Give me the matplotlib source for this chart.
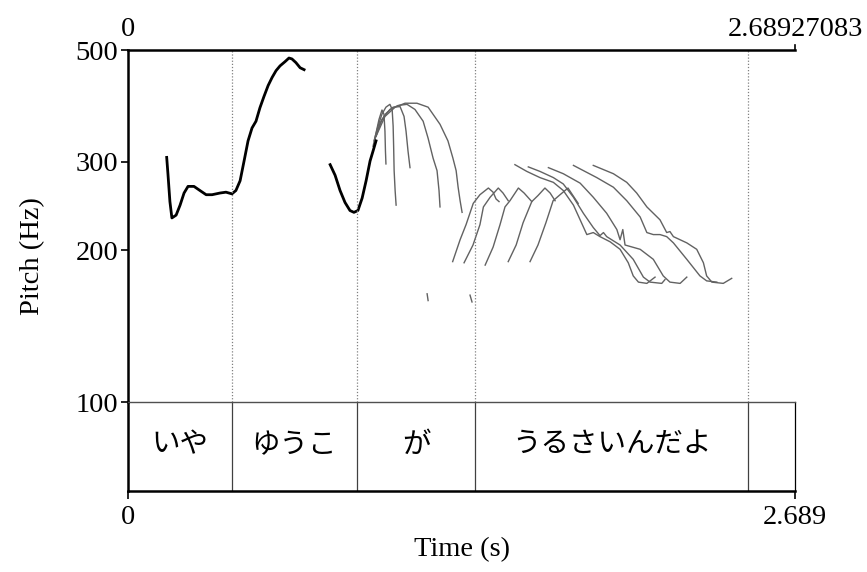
import matplotlib
matplotlib.use('Agg')
import matplotlib.pyplot as plt

plt.rcParams['font.family'] = ['Liberation Serif', 'Noto Sans CJK JP']

T_END = 2.68927083

# interval tier (boundaries in s) and labels
bounds = [0.419, 0.923, 1.399, 2.500]
labels = ['いや', 'ゆうこ', 'が', 'うるさいんだよ', '']

# main pitch contour pieces (thick)
c1_t = [0.156, 0.161, 0.169, 0.177, 0.194, 0.210, 0.226, 0.242, 0.266, 0.290, 0.315,
        0.339, 0.371, 0.395, 0.419, 0.435, 0.452, 0.468, 0.484, 0.500, 0.516, 0.532,
        0.548, 0.565, 0.581, 0.597, 0.613, 0.633, 0.649, 0.661, 0.677, 0.694, 0.710]
c1_f = [306, 284, 250, 232, 235, 246, 260, 268, 268, 263, 258,
        258, 260, 261, 259, 263, 275, 301, 330, 350, 361, 384,
        404, 425, 441, 455, 465, 474, 482, 480, 472, 461, 457]

c2_t = [0.815, 0.835, 0.855, 0.875, 0.895, 0.911, 0.927, 0.944, 0.960, 0.976, 0.988, 1.000]
c2_f = [296, 282, 263, 249, 240, 238, 240, 254, 275, 301, 315, 330]

# thin overlaid contours, "ga" region
f1_t = [0.988, 1.000, 1.012, 1.024, 1.032, 1.036, 1.038, 1.040]
f1_f = [322, 342, 364, 380, 373, 345, 315, 297]
f2_t = [0.992, 1.008, 1.024, 1.040, 1.056, 1.065, 1.069, 1.071, 1.073, 1.077, 1.081]
f2_f = [330, 353, 373, 385, 390, 381, 353, 322, 288, 263, 246]
f3_t = [0.996, 1.016, 1.040, 1.069, 1.097, 1.113, 1.121, 1.129, 1.137]
f3_f = [333, 358, 374, 385, 386, 369, 345, 315, 292]
f4_t = [1.000, 1.024, 1.056, 1.089, 1.125, 1.157, 1.190, 1.210, 1.230, 1.246, 1.254, 1.258]
f4_f = [337, 364, 381, 388, 390, 381, 361, 334, 305, 288, 263, 244]
f5_t = [1.000, 1.036, 1.077, 1.117, 1.165, 1.210, 1.258, 1.290, 1.310, 1.323, 1.331, 1.339, 1.347]
f5_f = [337, 369, 385, 392, 392, 385, 356, 330, 305, 288, 267, 251, 238]

# small stray fragments
s1_t = [1.206, 1.210]
s1_f = [164, 159]
s2_t = [1.379, 1.387]
s2_f = [163, 158]

# rising pieces, "urusai" region
r1_t = [1.309, 1.339, 1.363, 1.392, 1.419, 1.453, 1.472, 1.484, 1.496]
r1_f = [190, 210, 225, 248, 258, 266, 261, 253, 250]
r2_t = [1.355, 1.391, 1.419, 1.433, 1.460, 1.493, 1.512, 1.533]
r2_f = [189, 205, 225, 244, 255, 266, 260, 251]
r3_t = [1.440, 1.472, 1.500, 1.520, 1.540, 1.574, 1.597, 1.628]
r3_f = [187, 203, 225, 244, 251, 266, 260, 250]
r4_t = [1.533, 1.565, 1.593, 1.628, 1.653, 1.681, 1.702, 1.722]
r4_f = [190, 205, 227, 250, 257, 266, 260, 251]
r5_t = [1.621, 1.653, 1.685, 1.714, 1.742, 1.774, 1.794, 1.815]
r5_f = [190, 205, 227, 251, 258, 266, 257, 248]

# falling pieces
d1_t = [1.560, 1.608, 1.661, 1.715, 1.755, 1.796, 1.823, 1.850, 1.876, 1.903, 1.944,
        1.984, 2.017, 2.037, 2.058, 2.092, 2.125]
d1_f = [296, 287, 279, 273, 263, 246, 230, 215, 217, 213, 208,
        201, 189, 178, 173, 172, 177]
d2_t = [1.614, 1.661, 1.715, 1.755, 1.796, 1.836, 1.876, 1.903, 1.917, 1.930, 1.984,
        2.037, 2.078, 2.105, 2.152, 2.165]
d2_f = [293, 287, 279, 271, 255, 237, 222, 214, 217, 213, 205,
        192, 177, 173, 172, 175]
d3_t = [1.695, 1.755, 1.823, 1.876, 1.930, 1.971, 1.984, 1.995, 2.004, 2.065, 2.118,
        2.158, 2.185, 2.226, 2.253]
d3_f = [292, 284, 272, 255, 237, 220, 210, 220, 205, 201, 192,
        178, 173, 172, 177]
d4_t = [1.796, 1.890, 1.957, 2.011, 2.065, 2.092, 2.118, 2.145, 2.172, 2.199, 2.253,
        2.306, 2.333, 2.374]
d4_f = [295, 279, 267, 251, 233, 217, 215, 215, 213, 207, 192,
        178, 174, 173]
d5_t = [1.876, 1.957, 2.011, 2.051, 2.092, 2.145, 2.172, 2.185, 2.199, 2.253, 2.293,
        2.320, 2.333, 2.354, 2.400, 2.434]
d5_f = [295, 284, 273, 260, 244, 230, 217, 218, 213, 207, 201,
        189, 178, 173, 172, 176]

thick = [(c1_t, c1_f), (c2_t, c2_f)]
thin = [(f1_t, f1_f), (f2_t, f2_f), (f3_t, f3_f), (f4_t, f4_f), (f5_t, f5_f),
        (s1_t, s1_f), (s2_t, s2_f),
        (r1_t, r1_f), (r2_t, r2_f), (r3_t, r3_f), (r4_t, r4_f), (r5_t, r5_f),
        (d1_t, d1_f), (d2_t, d2_f), (d3_t, d3_f), (d4_t, d4_f), (d5_t, d5_f)]

fig = plt.figure(figsize=(8.67, 5.72), dpi=100)
W, H = 867, 572
left, right = 128, 795
ytop, ymid, ybot = 50, 402, 491

ax = fig.add_axes([left / W, 1 - ymid / H, (right - left) / W, (ymid - ytop) / H])
tier = fig.add_axes([left / W, 1 - ybot / H, (right - left) / W, (ybot - ymid) / H])
tier.patch.set_visible(False)

FS = 20.5

# pitch panel
for t, f in thin:
    ax.plot(t, f, color='#626262', lw=1.0)
for t, f in thick:
    ax.plot(t, f, color='black', lw=2.0)
for b in bounds:
    ax.axvline(b, color='#808080', lw=0.9, ls=(0, (1, 1.5)))

ax.set_yscale('log')
ax.set_xlim(0, T_END)
ax.set_ylim(100, 500)
ax.set_yticks([100, 200, 300, 500])
ax.set_yticklabels(['100', '200', '300', '500'])
ax.minorticks_off()
ax.set_xticks([])
ax.tick_params(axis='y', direction='out', length=5, width=1.2, labelsize=FS, pad=2)
for s in ['left', 'top']:
    ax.spines[s].set_linewidth(1.8)
ax.spines['right'].set_visible(False)
ax.spines['bottom'].set_visible(False)

fig.text(33 / W, 1 - 256 / H, 'Pitch (Hz)', rotation=90, ha='center', va='center', fontsize=FS)

# time range labels above
ax.annotate('0', xy=(0, 1), xycoords='axes fraction', xytext=(0, 6),
            textcoords='offset points', ha='center', va='bottom', fontsize=FS)
ax.annotate('2.68927083', xy=(1, 1), xycoords='axes fraction', xytext=(0, 6),
            textcoords='offset points', ha='center', va='bottom', fontsize=FS)
ax.plot([1, 1], [1, 1.015], transform=ax.transAxes, color='black', lw=1.2, clip_on=False)

# text tier
tier.set_xlim(0, T_END)
tier.set_ylim(0, 1)
edges = [0] + bounds + [T_END]
for b in bounds:
    tier.axvline(b, color='#404040', lw=0.9)
for i, lab in enumerate(labels):
    tier.text((edges[i] + edges[i + 1]) / 2, 0.52, lab, ha='center', va='center',
              fontsize=20.5, family=['Noto Sans CJK JP', 'DejaVu Sans'])
tier.set_yticks([])
tier.set_xticks([0, T_END])
tier.set_xticklabels(['0', '2.689'])
tier.tick_params(axis='x', direction='out', length=6, width=1.2, labelsize=FS, pad=4)
tier.set_xlabel('Time (s)', fontsize=FS, labelpad=5)
tier.spines['top'].set_linewidth(1.0)
tier.spines['top'].set_color('#505050')
tier.spines['left'].set_linewidth(1.8)
tier.spines['bottom'].set_linewidth(1.8)
tier.spines['right'].set_linewidth(0.9)

fig.savefig('out.png', dpi=100)
